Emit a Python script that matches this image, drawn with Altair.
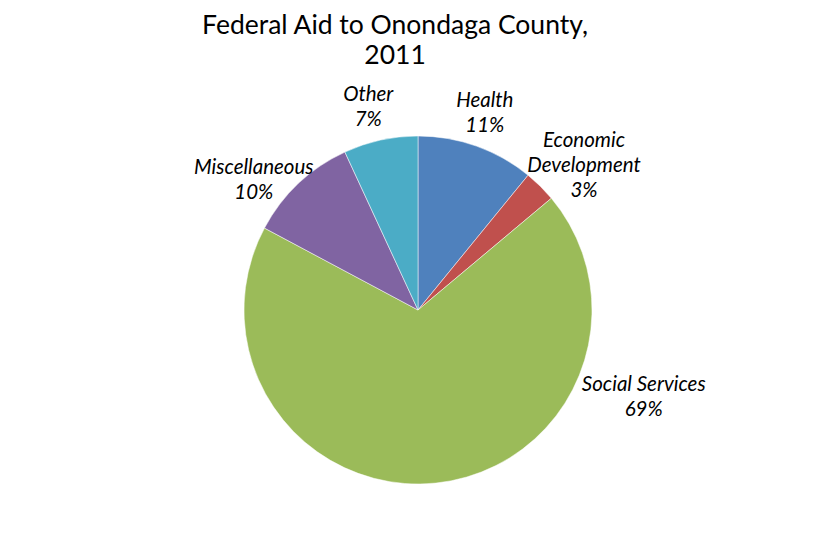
import altair as alt
import pandas as pd

categories = ["Health", "Economic Development", "Social Services", "Miscellaneous", "Other"]
values = [10.9, 3.0, 68.9, 10.3, 6.9]
label_names = ["Health", "Economic\nDevelopment", "Social Services", "Miscellaneous", "Other"]
colors = ["#4F81BD", "#C0504D", "#9BBB59", "#8064A2", "#4BACC6"]

df = pd.DataFrame({
    "category": categories,
    "value": values,
    "order": list(range(len(categories))),
})
df["label"] = [f"{n}\n{round(v)}%" for n, v in zip(label_names, values)]

FONT = "Lato"

base = (
    alt.Chart(df)
    .transform_joinaggregate(total="sum(value)")
    .transform_calculate(frac="datum.value / datum.total")
    .transform_stack(stack="frac", as_=["t0", "t1"], groupby=[],
                     sort=[alt.SortField("order", order="ascending")])
    .transform_calculate(tmid="(datum.t0 + datum.t1) / 2")
)
tscale = alt.Scale(domain=[0, 1])

pie = base.mark_arc(outerRadius=174, stroke="white", strokeWidth=0.5).encode(
    theta=alt.Theta("t0:Q", scale=tscale),
    theta2="t1:Q",
    color=alt.Color("category:N", scale=alt.Scale(domain=categories, range=colors), legend=None),
)

def text_layer(name, radius, dx=0, dy=0):
    return base.transform_filter(alt.datum.category == name).mark_text(
        radius=radius, font=FONT, fontSize=20.5, fontStyle="italic", color="black",
        lineBreak="\n", lineHeight=25, dx=dx, dy=dy, align="center", baseline="middle"
    ).encode(
        theta=alt.Theta("tmid:Q", scale=tscale),
        text="label:N",
    )

labels_health = text_layer("Health", 208, dx=-3, dy=-13)
labels_other = text_layer("Other", 208, dx=-5, dy=-12)
labels_econ = text_layer("Economic Development", 222, dx=10, dy=-11)
labels_misc = text_layer("Miscellaneous", 210, dx=-20, dy=11)
labels_soc = text_layer("Social Services", 210, dx=204, dy=-134)

chart = alt.layer(pie, labels_health, labels_other, labels_econ, labels_misc, labels_soc).properties(
    width=820, height=436,
    autosize=alt.AutoSizeParams(type="none"),
    padding={"top": 84, "left": 0, "right": 0, "bottom": 0},
    title=alt.TitleParams(
        ["Federal Aid to Onondaga County,", "2011"],
        font=FONT, fontSize=26.5, fontWeight="normal", color="black",
        lineHeight=30, offset=15, anchor="middle", frame="group", dx=-23,
    ),
).configure_view(stroke=None).configure(background="white")

chart.save("out.html", embed_options={"renderer": "svg", "actions": False})
